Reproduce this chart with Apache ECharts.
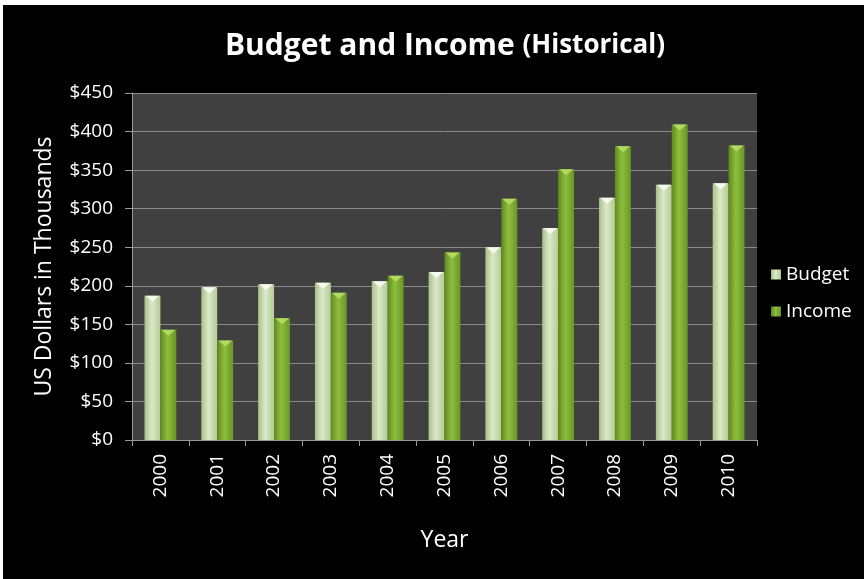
<!DOCTYPE html>
<html><head><meta charset="utf-8">
<script src="https://cdn.jsdelivr.net/npm/echarts@6/dist/echarts.min.js"></script>
<style>
html,body{margin:0;padding:0;background:#fff;}
#c{position:absolute;left:3px;top:5px;width:861px;height:574px;background:#000;}
</style></head>
<body><div id="c"></div>
<script>
const years = ['2000','2001','2002','2003','2004','2005','2006','2007','2008','2009','2010'];
const budget = [187, 198, 202, 204, 206, 218, 250, 275, 314, 331, 333];
const income = [143, 129, 158, 191, 213, 243, 313, 351, 381, 409, 382];
const yTicks = [0, 50, 100, 150, 200, 250, 300, 350, 400, 450];

const chart = echarts.init(document.getElementById('c'), null, {renderer:'canvas'});
const FONT = '"Open Sans", "Noto Sans", sans-serif';
const CAT_GAP = 0.44;
function grad(a,b,c){
  return new echarts.graphic.LinearGradient(0,0,1,0,[
    {offset:0,color:a},{offset:0.45,color:b},{offset:1,color:c}]);
}
// bevel triangle on top of each bar, positioned via the axis scales
function bevel(side, color){
  return function(params, api){
    const top = api.coord([api.value(0), api.value(1)]);
    const band = api.size([1,0])[0];
    const bw = band*(1-CAT_GAP)/2;
    const x0 = side < 0 ? top[0]-bw : top[0];
    const y = top[1];
    return {type:'polygon', shape:{points:[[x0+1,y],[x0+bw-1,y],[x0+bw/2,y+6]]},
            style:{fill:color}, silent:true};
  };
}
chart.setOption({
  backgroundColor:'#000',
  animation:false,
  title:{
    text:'{a|Budget and Income }{b|(Historical)}',
    left:437, top:21, textAlign:'center',
    textStyle:{rich:{
      a:{fontFamily:FONT,fontWeight:'bold',fontSize:30,color:'#fff'},
      b:{fontFamily:FONT,fontWeight:'bold',fontSize:26,color:'#fff'}
    }}
  },
  legend:{
    orient:'vertical', left:763, top:255, itemWidth:10, itemHeight:10, itemGap:18,
    icon:'rect',
    textStyle:{color:'#fff',fontFamily:FONT,fontSize:19},
    data:['Budget','Income']
  },
  grid:{left:129, top:88, right:107, bottom:139, containLabel:false,
        show:true, backgroundColor:'#404040', borderWidth:0},
  xAxis:{
    type:'category', data:years,
    name:'Year', nameLocation:'middle', nameGap:89,
    nameTextStyle:{color:'#fff',fontFamily:FONT,fontSize:23},
    axisLine:{lineStyle:{color:'#9a9a9a',width:1}},
    axisTick:{show:true,length:6,lineStyle:{color:'#9a9a9a'}},
    axisLabel:{rotate:90,color:'#fff',fontFamily:FONT,fontSize:19,margin:14}
  },
  yAxis:{
    type:'value', min:0, max:450, interval:50,
    name:'US Dollars in Thousands', nameLocation:'middle', nameGap:76,
    nameTextStyle:{color:'#fff',fontFamily:FONT,fontSize:23},
    axisLine:{show:true,lineStyle:{color:'#9a9a9a',width:1}},
    axisTick:{show:true,length:7,inside:false,lineStyle:{color:'#9a9a9a'}},
    axisLabel:{color:'#fff',fontFamily:FONT,fontSize:19,margin:19,
      formatter:v=>'$'+v},
    splitLine:{lineStyle:{color:'#8a8a8a',width:1}}
  },
  series:[
    {name:'Budget', type:'bar', data:budget, barGap:'0%', barCategoryGap:(CAT_GAP*100)+'%',
     itemStyle:{color:grad('#a9c08a','#dbe9c8','#b4ca96')}},
    {name:'Income', type:'bar', data:income,
     itemStyle:{color:grad('#5f8a1e','#8ebe3e','#6a9626')}},
    {name:'bTop', type:'custom', data:budget.map((v,i)=>[i,v]), z:3, silent:true,
     renderItem:bevel(-1,'#f6faee')},
    {name:'iTop', type:'custom', data:income.map((v,i)=>[i,v]), z:3, silent:true,
     renderItem:bevel(1,'#b2da62')}
  ]
});
</script></body></html>
